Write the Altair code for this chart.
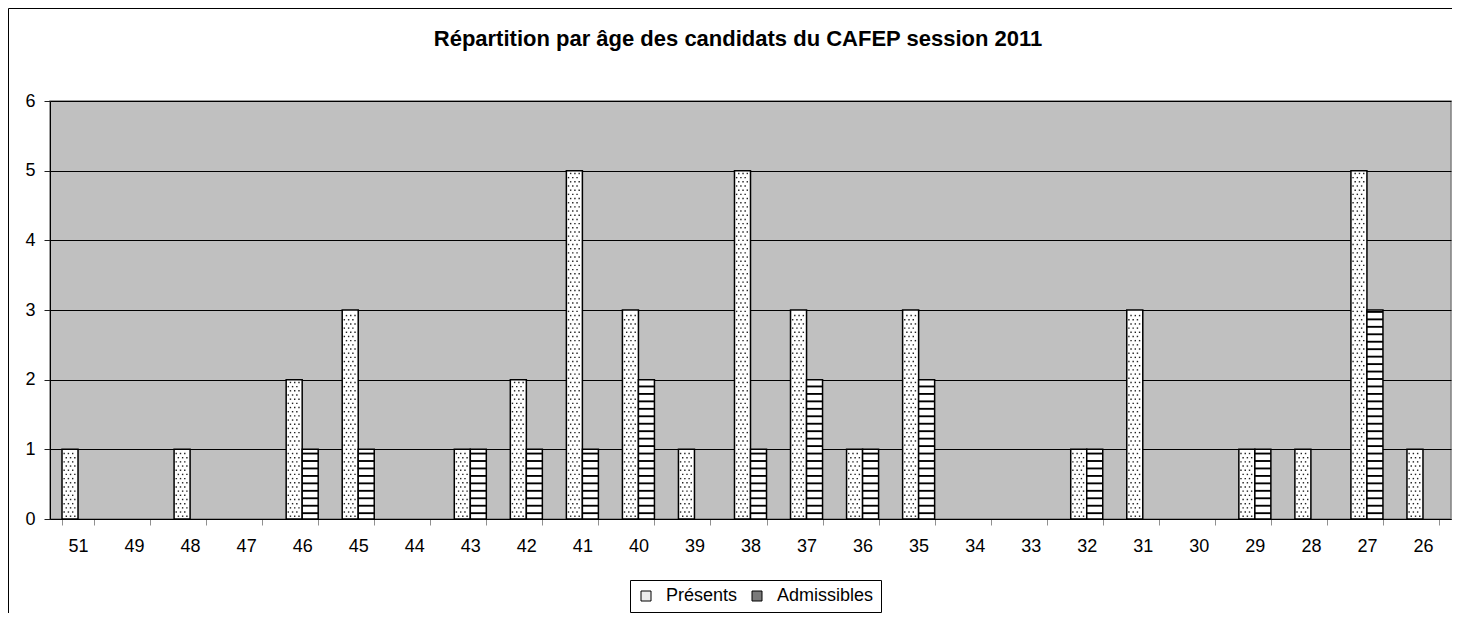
import altair as alt
import pandas as pd

ages = ["51", "49", "48", "47", "46", "45", "44", "43", "42", "41", "40", "39", "38",
        "37", "36", "35", "34", "33", "32", "31", "30", "29", "28", "27", "26"]
presents = [1, 0, 1, 0, 2, 3, 0, 1, 2, 5, 3, 1, 5, 3, 1, 3, 0, 0, 1, 3, 0, 1, 1, 5, 1]
admissibles = [0, 0, 0, 0, 1, 1, 0, 1, 1, 1, 2, 0, 1, 2, 1, 2, 0, 0, 1, 0, 0, 1, 0, 3, 0]
series = ["Présents", "Admissibles"]
title = ["Répartition par âge des candidats du CAFEP session 2011"]

rows = []
for a, p, ad in zip(ages, presents, admissibles):
    rows.append({"age": a, "serie": series[0], "val": p})
    rows.append({"age": a, "serie": series[1], "val": ad})
df = pd.DataFrame(rows)

FONT = "Liberation Sans"

x_enc = alt.X("age:N", sort=ages, title=None,
              scale=alt.Scale(paddingInner=0.4286, paddingOuter=0.2143),
              axis=alt.Axis(labelAngle=0, tickBand="extent", tickSize=6, tickColor="#909090",
                            domainColor="#000000", labelFont=FONT, labelFontSize=18,
                            labelPadding=12, labelColor="black"))
off_enc = alt.XOffset("serie:N", sort=series,
                      scale=alt.Scale(domain=series, paddingInner=0, paddingOuter=0))
y_scale = alt.Scale(domain=[0, 6], nice=False)

base = alt.Chart(df)

bars = base.transform_filter("datum.val > 0").mark_bar(
    fill="white", stroke="black", strokeWidth=1.5
).encode(
    x=x_enc,
    xOffset=off_enc,
    y=alt.Y("val:Q", scale=y_scale, title=None,
            axis=alt.Axis(values=[0, 1, 2, 3, 4, 5, 6], format="d", grid=True,
                          gridColor="#000000", gridWidth=1, tickSize=6, tickColor="#202020",
                          domainColor="#000000", labelFont=FONT, labelFontSize=18,
                          labelPadding=9, labelColor="black")),
)

stripes = base.transform_filter(
    "datum.serie == 'Admissibles' && datum.val > 0"
).transform_calculate(
    st="sequence(0.07, datum.val - 0.03, 0.107)"
).transform_flatten(["st"]).transform_calculate(
    st2="datum.st + 0.027"
).mark_bar(fill="black", stroke=None).encode(
    x=x_enc,
    xOffset=off_enc,
    y=alt.Y("st:Q", scale=y_scale),
    y2="st2:Q",
)

dots = base.transform_filter(
    "datum.serie == 'Présents' && datum.val > 0"
).transform_calculate(
    rw="sequence(0.04, datum.val - 0.03, 0.06)"
).transform_flatten(["rw"]).transform_calculate(
    ri="round((datum.rw - 0.04) / 0.06)", cl="[1, 2, 3, 4, 5, 6]"
).transform_flatten(["cl"]).transform_filter(
    "(datum.cl + datum.ri) % 2 == 0"
).mark_square(size=2, color="#222222", opacity=1, filled=True).encode(
    x=x_enc,
    xOffset=alt.XOffset("cl:O", scale=alt.Scale(domain=list(range(16)), paddingInner=0,
                                                 paddingOuter=0)),
    y=alt.Y("rw:Q", scale=y_scale),
)

legend_layer = base.mark_bar(stroke=None).encode(
    x=x_enc,
    y=alt.datum(0),
    y2=alt.datum(0),
    fill=alt.Fill("serie:N", sort=series,
                  scale=alt.Scale(domain=series, range=["#ececec", "#7a7a7a"]),
                  legend=alt.Legend(title=None, orient="none", legendX=580, legendY=479,
                                    direction="horizontal", strokeColor="black", padding=7,
                                    symbolType="square", symbolSize=100,
                                    symbolStrokeColor="black", symbolStrokeWidth=1,
                                    labelFont=FONT, labelFontSize=18, labelOffset=11,
                                    columnPadding=10, labelColor="black")),
)

frame_data = pd.DataFrame({"k": [0]})
frame_left = alt.Chart(frame_data).mark_rule(color="black", strokeWidth=1).encode(
    x=alt.value(-41.5), y=alt.value(-92.5), y2=alt.value(512)
)
frame_top = alt.Chart(frame_data).mark_rule(color="black", strokeWidth=1).encode(
    x=alt.value(-41.5), x2=alt.value(1402), y=alt.value(-92.5)
)

title_layer = alt.Chart(pd.DataFrame({"t": title})).mark_text(
    font=FONT, fontSize=22, fontWeight="bold", align="center", baseline="alphabetic",
    color="black"
).encode(text="t:N", x=alt.value(688), y=alt.value(-55))

chart = alt.layer(frame_left, frame_top, bars, stripes, dots, legend_layer,
                  title_layer).resolve_scale(
    xOffset="independent"
).properties(
    width=1401,
    height=418,
    autosize=alt.AutoSizeParams(type="none"),
    padding={"left": 42, "top": 93, "right": 3, "bottom": 100},
    background="white",
).configure_view(
    fill="#c0c0c0", stroke="#808080", strokeWidth=1.5
)

chart.save("out.html", embed_options={"renderer": "svg", "actions": False})
